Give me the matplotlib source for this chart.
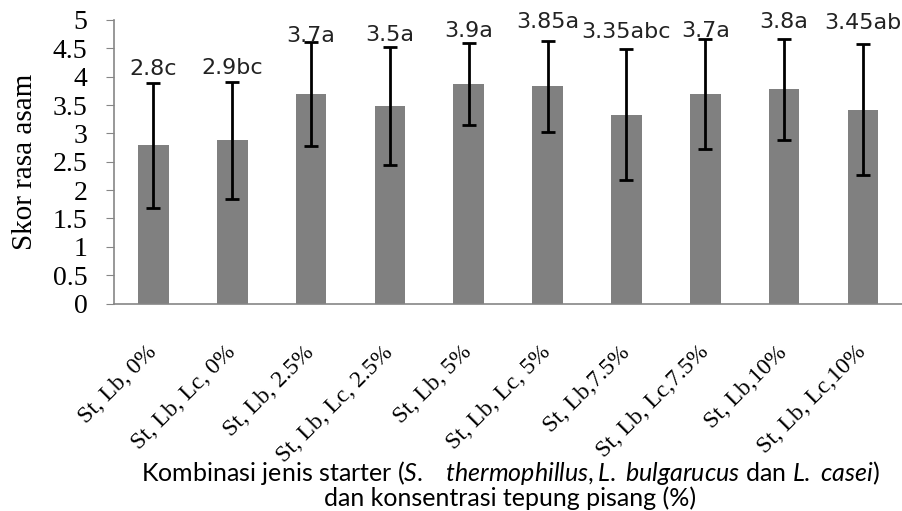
import matplotlib.pyplot as plt
from matplotlib.transforms import ScaledTranslation

plt.rcParams['mathtext.fontset'] = 'custom'
plt.rcParams['mathtext.rm'] = 'Lato'
plt.rcParams['mathtext.it'] = 'Lato:italic'

# data
categories = ["St, Lb, 0%", "St, Lb, Lc, 0%", "St, Lb, 2.5%", "St, Lb, Lc, 2.5%",
              "St, Lb, 5%", "St, Lb, Lc, 5%", "St, Lb,7.5%", "St, Lb, Lc,7.5%",
              "St, Lb,10%", "St, Lb, Lc,10%"]
scores = [2.79, 2.88, 3.69, 3.49, 3.87, 3.83, 3.33, 3.69, 3.78, 3.42]
errors = [1.10, 1.03, 0.92, 1.04, 0.72, 0.80, 1.15, 0.97, 0.89, 1.16]
labels = ["2.8c", "2.9bc", "3.7a", "3.5a", "3.9a", "3.85a", "3.35abc", "3.7a", "3.8a", "3.45ab"]
label_y = [4.13, 4.16, 4.71, 4.73, 4.81, 4.97, 4.78, 4.80, 4.97, 4.94]

fig = plt.figure(figsize=(9.02, 5.11), dpi=100)
ax = fig.add_axes([0.1264, 0.406, 0.874, 0.555])

x = range(len(categories))
ax.bar(x, scores, width=0.39, color="#808080",
       yerr=errors, capsize=5, error_kw=dict(ecolor="black", elinewidth=2, capthick=2))

for i in x:
    ax.text(i, label_y[i], labels[i], ha="center", va="center",
            fontsize=16, family="DejaVu Sans", color="#222222")

ax.set_xlim(-0.5, 9.5)
ax.set_ylim(0, 5)
ax.set_yticks([i * 0.5 for i in range(11)])
ax.set_yticklabels(["0", "0.5", "1", "1.5", "2", "2.5", "3", "3.5", "4", "4.5", "5"],
                   family="Liberation Serif", fontsize=20)
ax.set_xticks(list(x))
ax.set_xticklabels(categories, family="Liberation Serif", fontsize=17,
                   rotation=45, ha="right", va="center", rotation_mode="anchor")
shift = ScaledTranslation(0, -3 / 100, fig.dpi_scale_trans)
for t in ax.get_xticklabels():
    t.set_transform(t.get_transform() + shift)
ax.tick_params(axis="x", length=0, pad=33)
ax.tick_params(axis="y", length=6, color="#868686", pad=13)

for s in ["top", "right"]:
    ax.spines[s].set_visible(False)
for s in ["left", "bottom"]:
    ax.spines[s].set_color("#868686")
    ax.spines[s].set_linewidth(1.2)

ax.set_ylabel("Skor rasa asam", family="Liberation Serif", fontsize=21)
ax.yaxis.set_label_coords(-0.097, 0.5)

fig.text(0.566, 0.074,
         "Kombinasi jenis starter ($\\mathit{S.}$   $\\mathit{thermophillus,L.\\ bulgarucus}$ dan $\\mathit{L.\\ casei}$)",
         ha="center", va="center", family="Lato", fontsize=18)
fig.text(0.566, 0.025, "dan konsentrasi tepung pisang (%)",
         ha="center", va="center", family="Lato", fontsize=18)

fig.savefig("out.png", dpi=100)
